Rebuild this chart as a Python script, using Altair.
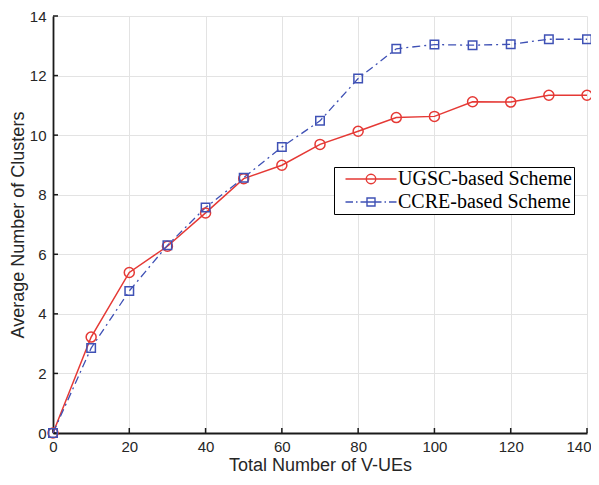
import altair as alt
import pandas as pd

# ---- data ----
x_vues = [0, 10, 20, 30, 40, 50, 60, 70, 80, 90, 100, 110, 120, 130, 140]
ugsc = [0, 3.22, 5.39, 6.27, 7.39, 8.54, 8.99, 9.69, 10.13, 10.59, 10.63, 11.12, 11.11, 11.34, 11.34]
ccre = [0, 2.85, 4.77, 6.30, 7.57, 8.57, 9.60, 10.48, 11.90, 12.90, 13.04, 13.02, 13.05, 13.22, 13.22]
series_names = ["UGSC-based Scheme", "CCRE-based Scheme"]
x_ticks = [0, 20, 40, 60, 80, 100, 120, 140]
y_ticks = [0, 2, 4, 6, 8, 10, 12, 14]

RED = "#e53935"
BLUE = "#3f51b5"
W, H = 534, 417
AXIS_FONT = "Liberation Sans"

df = pd.DataFrame({
    "x": x_vues * 2,
    "y": ugsc + ccre,
    "series": [series_names[0]] * len(ugsc) + [series_names[1]] * len(ccre),
})
xt = pd.DataFrame({"v": x_ticks})
yt = pd.DataFrame({"v": y_ticks})

xs = alt.Scale(domain=[0, 140], nice=False)
ys = alt.Scale(domain=[0, 14], nice=False)

xaxis = alt.Axis(values=x_ticks, ticks=False, labelPadding=6, titleY=37,
                 titleBaseline="alphabetic",
                 labelAlign=alt.ExprRef("datum.value == 140 ? 'right' : 'center'"),
                 labelOffset=alt.ExprRef("datum.value == 140 ? 4 : 0"))
yaxis = alt.Axis(values=y_ticks, ticks=False, labelPadding=7, titleX=-29.5,
                 titleBaseline="alphabetic")
XT = "Total Number of V-UEs"
YT = "Average Number of Clusters"


def X(f):
    return alt.X(f"{f}:Q", scale=xs, axis=xaxis, title=XT)


def Y(f):
    return alt.Y(f"{f}:Q", scale=ys, axis=yaxis, title=YT)


base = alt.Chart(df)

red_line = base.mark_line(color=RED, strokeWidth=1.5).encode(
    x=X("x"), y=Y("y")).transform_filter(alt.datum.series == series_names[0])
blue_line = base.mark_line(color=BLUE, strokeWidth=1.3, strokeDash=[8, 4, 2, 4]).encode(
    x=X("x"), y=Y("y")).transform_filter(alt.datum.series == series_names[1])
red_pts = base.mark_point(shape="circle", size=100, color=RED, strokeWidth=1.5,
                          filled=False, opacity=1).encode(
    x=X("x"), y=Y("y")).transform_filter(alt.datum.series == series_names[0])
blue_pts = base.mark_point(shape="square", size=72, color=BLUE, strokeWidth=1.5,
                           filled=False, opacity=1).encode(
    x=X("x"), y=Y("y")).transform_filter(alt.datum.series == series_names[1])

xtick_rules = alt.Chart(xt).mark_rule(color="#1a1a1a", strokeWidth=1.5).encode(
    x=X("v"), y=alt.value(H), y2=alt.value(H - 5))
ytick_rules = alt.Chart(yt).mark_rule(color="#1a1a1a", strokeWidth=1.5).encode(
    y=Y("v"), x=alt.value(0), x2=alt.value(5))

# legend symbols: line segment + marker drawn as one path each
red_sym = ("M-5.1,0H5.1 M0.95,0A0.95,0.95 0 1 1 -0.95,0A0.95,0.95 0 1 1 0.95,0Z")
blue_sym = ("M-5.1,0H-3.6 M-3.0,0H-2.7 M-2.1,0H2.1 M2.7,0H3.0 M3.6,0H5.1 "
            "M-0.8,-0.8H0.8V0.8H-0.8Z")

leg = alt.Legend(title=None, orient="none", legendX=281, legendY=151, padding=2,
                 symbolSize=100, symbolStrokeWidth=1.4, symbolOffset=25,
                 labelOffset=17, labelFont="Liberation Serif", labelFontSize=20,
                 labelColor="black", labelLimit=400, strokeColor="black",
                 fillColor="white", rowPadding=3, symbolOpacity=1, clipHeight=20,
                 symbolFillColor="transparent",
                 labelExpr="datum.label + '\u00a0'")

legend_layer = base.mark_point(filled=False).encode(
    x=X("x"), y=Y("y"),
    shape=alt.Shape("series:N", scale=alt.Scale(domain=series_names, range=[red_sym, blue_sym]),
                    legend=leg),
    color=alt.Color("series:N", scale=alt.Scale(domain=series_names, range=[RED, BLUE]),
                    legend=leg),
).transform_filter("false")

chart = alt.layer(
    xtick_rules, ytick_rules, red_line, blue_line, red_pts, blue_pts, legend_layer
).properties(
    width=W, height=H,
    autosize=alt.AutoSizeParams(type="none"),
    padding={"left": 45, "top": 8, "right": 4, "bottom": 43},
).configure_view(stroke=None).configure_axis(
    labelFont=AXIS_FONT, labelFontSize=15, labelColor="#262626",
    titleFont=AXIS_FONT, titleFontSize=18, titleFontWeight="normal", titleColor="#262626",
    domainColor="#1a1a1a", domainWidth=1.8, grid=True, gridColor="#e3e3e3", gridWidth=1,
)

chart.save("out.html", embed_options={"renderer": "svg", "actions": False})
